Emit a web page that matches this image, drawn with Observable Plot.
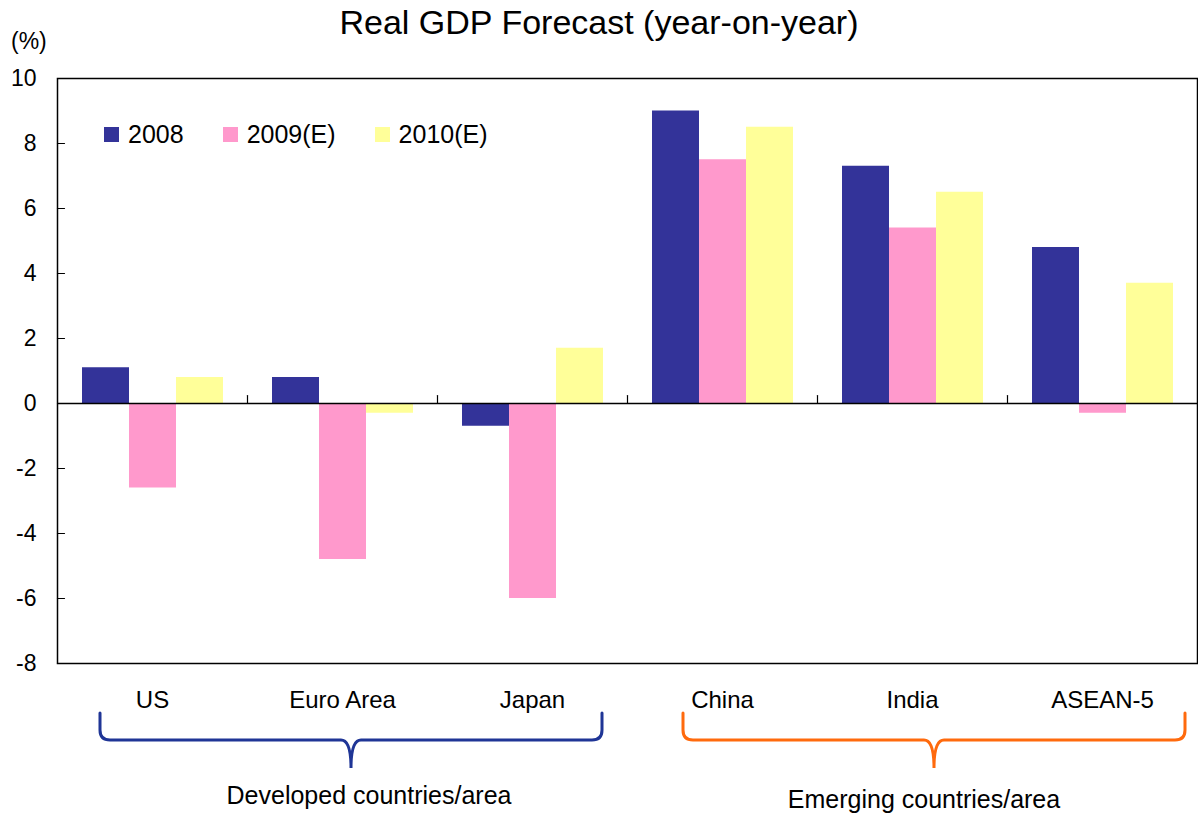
<!DOCTYPE html>
<html>
<head>
<meta charset="utf-8">
<script src="https://cdn.jsdelivr.net/npm/d3@7"></script>
<script src="https://cdn.jsdelivr.net/npm/@observablehq/plot@0.6"></script>
<style>
  body { margin: 0; background: #fff; font-family: "Liberation Sans", Arial, sans-serif; color: #000; }
  #wrap { position: relative; width: 1198px; height: 817px; overflow: hidden; }
  #title { position: absolute; left: 0; top: 3px; width: 1198px; text-align: center; font-size: 34px; }
  #unit { position: absolute; left: 11px; top: 28px; font-size: 23px; }
  #legend { position: absolute; left: 104px; top: 120px; display: flex; align-items: center; font-size: 25px; }
  #legend .item { display: flex; align-items: center; margin-right: 39px; }
  #legend .sw { width: 15px; height: 15px; margin-right: 9px; }
  #chart { position: absolute; left: 0; top: 0; }
</style>
</head>
<body>
<div id="wrap">
  <div id="chart"></div>
  <div id="title"></div>
  <div id="unit"></div>
  <div id="legend"></div>
</div>
<script>
const titleText = "Real GDP Forecast (year-on-year)";
const unitText = "(%)";
const countries = ["US", "Euro Area", "Japan", "China", "India", "ASEAN-5"];
const series = ["2008", "2009(E)", "2010(E)"];
const v2008 = [1.1, 0.8, -0.7, 9.0, 7.3, 4.8];
const v2009 = [-2.6, -4.8, -6.0, 7.5, 5.4, -0.3];
const v2010 = [0.8, -0.3, 1.7, 8.5, 6.5, 3.7];
const seriesColors = ["#333399", "#FF99CC", "#FFFF99"];
const yTicks = [-8, -6, -4, -2, 0, 2, 4, 6, 8, 10];
const groupNames = ["Developed countries/area", "Emerging countries/area"];
const groupMembers = [["US", "Euro Area", "Japan"], ["China", "India", "ASEAN-5"]];
const groupColors = ["#1F3596", "#FF6A0D"];

const seriesValues = [v2008, v2009, v2010];
const data = countries.flatMap((c, i) => series.map((s, j) => ({country: c, series: s, value: seriesValues[j][i]})));

const tickShape = {draw(ctx, l) { ctx.moveTo(0, 0); ctx.lineTo(0, -l); }};

const W = 1198, H = 817;
const plot = Plot.plot({
  width: W, height: H,
  marginTop: 78, marginBottom: 154, marginLeft: 57, marginRight: 1,
  style: {fontFamily: '"Liberation Sans", Arial, sans-serif', fontSize: "23px", background: "white", color: "black"},
  fx: {domain: countries, paddingInner: 0, paddingOuter: 0, label: null},
  x: {domain: series, paddingInner: 0, paddingOuter: 0.5, axis: null},
  y: {domain: [-8, 10], label: null},
  color: {domain: series, range: seriesColors},
  marks: [
    Plot.barY(data, {fx: "country", x: "series", y: "value", fill: "series"}),
    Plot.ruleY([0], {stroke: "#000", strokeWidth: 1.5}),
    Plot.vector(countries.slice(1), {fx: d => d, y: () => 0, frameAnchor: "left", length: 8, anchor: "start", rotate: 0, shape: tickShape, stroke: "#000", strokeWidth: 1.2}),
    Plot.vector(yTicks, {fx: () => countries[0], y: d => d, frameAnchor: "left", length: 7, anchor: "start", rotate: 90, shape: tickShape, stroke: "#000", strokeWidth: 1.2}),
    Plot.axisY(yTicks, {anchor: "left", tickSize: 0, tickPadding: 21, fontSize: 23, label: null, tickFormat: d => String(d)}),
    Plot.axisFx({anchor: "bottom", tickSize: 0, tickPadding: 27, fontSize: 24, label: null}),
    Plot.frame({facet: "super", stroke: "#000", strokeWidth: 1.5})
  ]
});
document.getElementById("chart").appendChild(plot);

document.getElementById("title").textContent = titleText;
document.getElementById("unit").textContent = unitText;
const legend = d3.select("#legend");
series.forEach((s, j) => {
  const it = legend.append("div").attr("class", "item");
  it.append("div").attr("class", "sw").style("background", seriesColors[j]);
  it.append("span").text(s);
});

// group braces below the category labels
const fx = plot.scale("fx");
const svg = d3.select(plot);
const braceTop = 713, braceMid = 740, braceTip = 768, r = 10;
const braceShift = [9, 22];
const labelY = [804, 808];
const labelShift = [27, 12];
groupMembers.forEach((members, g) => {
  const left = fx.apply(members[0]);
  const right = fx.apply(members[members.length - 1]) + fx.bandwidth;
  const cx = (left + right) / 2 + braceShift[g];
  const half = 251;
  const x0 = cx - half, x1 = cx + half;
  const p = d3.path();
  p.moveTo(x0, braceTop);
  p.lineTo(x0, braceMid - r);
  p.quadraticCurveTo(x0, braceMid, x0 + r, braceMid);
  p.lineTo(cx - r, braceMid);
  p.quadraticCurveTo(cx, braceMid, cx, braceTip);
  p.quadraticCurveTo(cx, braceMid, cx + r, braceMid);
  p.lineTo(x1 - r, braceMid);
  p.quadraticCurveTo(x1, braceMid, x1, braceMid - r);
  p.lineTo(x1, braceTop);
  svg.append("path").attr("d", p.toString()).attr("fill", "none")
    .attr("stroke", groupColors[g]).attr("stroke-width", 3).attr("stroke-linecap", "round");
  svg.append("text").attr("x", (left + right) / 2 + labelShift[g]).attr("y", labelY[g])
    .attr("text-anchor", "middle").attr("font-size", 25)
    .attr("font-family", '"Liberation Sans", Arial, sans-serif').text(groupNames[g]);
});
</script>
</body>
</html>
